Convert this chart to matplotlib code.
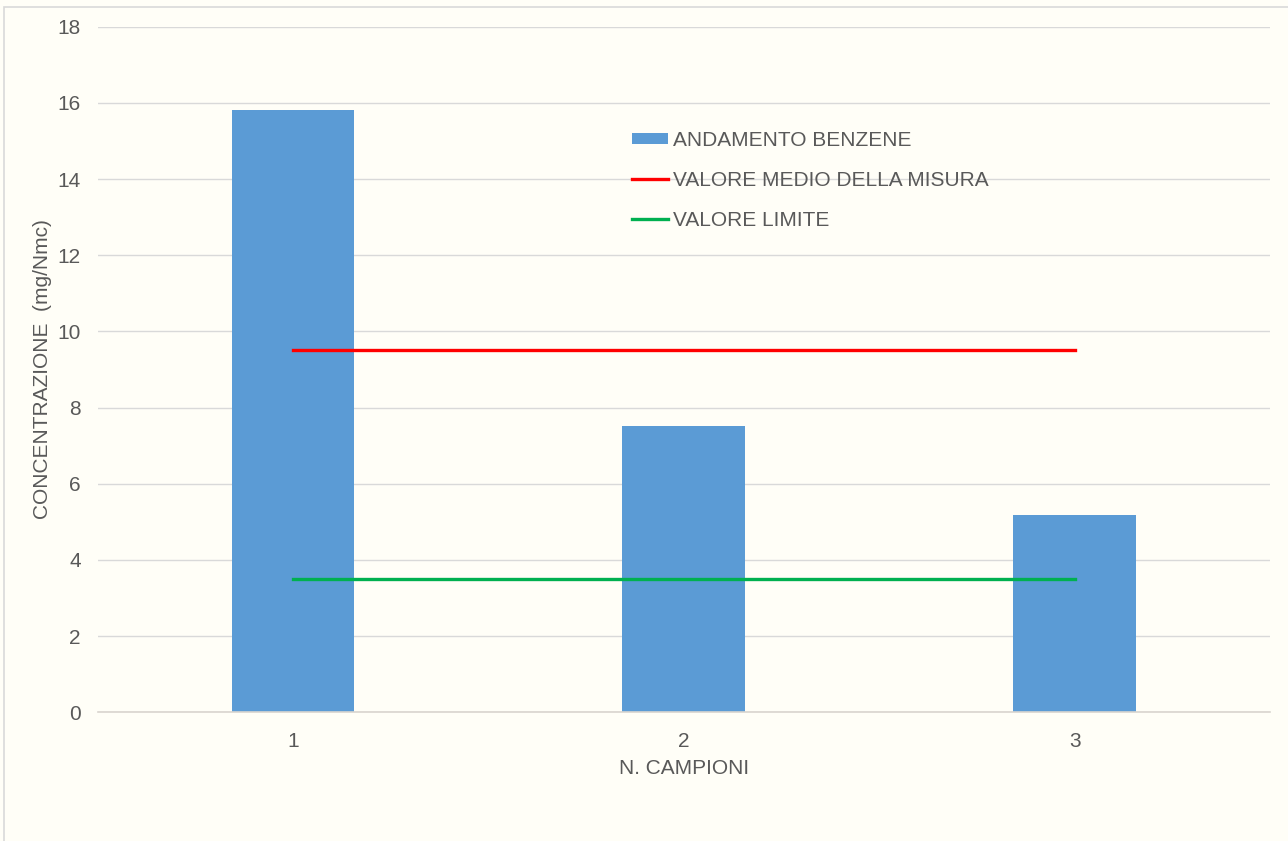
import matplotlib
matplotlib.use("Agg")
import matplotlib.pyplot as plt
from matplotlib.patches import Rectangle
import numpy as np

plt.rcParams['font.family'] = ['Liberation Sans', 'DejaVu Sans']

# data
campioni = [1, 2, 3]
benzene = [15.82, 7.52, 5.18]
valore_medio = [9.51, 9.51, 9.51]
valore_limite = [3.5, 3.5, 3.5]

bg = "#FFFEF7"
txt = "#595959"
fs = 15

fig = plt.figure(figsize=(12.88, 8.41), dpi=100)
fig.patch.set_facecolor(bg)
L, R, T, B = 97.5, 1270, 26.7, 712.3
ax = fig.add_axes([L/1288, 1 - B/841, (R - L)/1288, (B - T)/841])
ax.set_facecolor(bg)

x = np.array(campioni)
bars = ax.bar(x, benzene, width=0.314, color="#5B9BD5", label="ANDAMENTO BENZENE", zorder=2)
l1, = ax.plot(x, valore_medio, color="#FF0000", lw=2.4, label="VALORE MEDIO DELLA MISURA", zorder=3)
l2, = ax.plot(x, valore_limite, color="#00B050", lw=2.4, label="VALORE LIMITE", zorder=3)

ax.set_xlim(0.5, 3.5)
ax.set_ylim(0, 18)
ax.set_yticks(range(0, 19, 2))
ax.set_xticks(campioni)
ax.grid(axis="y", color="#D9D9D9", lw=1, zorder=0)
for s in ["top", "right", "left"]:
    ax.spines[s].set_visible(False)
ax.spines["bottom"].set_color("#D9D5CF")
ax.spines["bottom"].set_linewidth(1.2)
ax.tick_params(length=0, labelsize=fs, labelcolor=txt)
ax.tick_params(axis="y", pad=12)
ax.tick_params(axis="x", pad=14)

ax.set_xlabel("N. CAMPIONI", fontsize=fs, color=txt, labelpad=6)
ax.set_ylabel("CONCENTRAZIONE  (mg/Nmc)", fontsize=fs, color=txt, labelpad=4)

ax.legend([bars, l1, l2], ["ANDAMENTO BENZENE", "VALORE MEDIO DELLA MISURA", "VALORE LIMITE"],
          loc="upper left", bbox_to_anchor=((632 - L)/(R - L), 1 - (131 - T)/(B - T)),
          frameon=False, fontsize=fs, labelcolor=txt, handlelength=1.75, handleheight=0.45,
          handletextpad=0.2, labelspacing=1.0, borderpad=0, borderaxespad=0)

# outer chart border (left/top visible only)
fig.patches.append(Rectangle((4/1288, -0.1), 1.2, 1.1 - 7/841, transform=fig.transFigure,
                             fill=False, edgecolor="#D9D9D9", lw=1.2))

fig.savefig("out.png", dpi=100, facecolor=bg)
